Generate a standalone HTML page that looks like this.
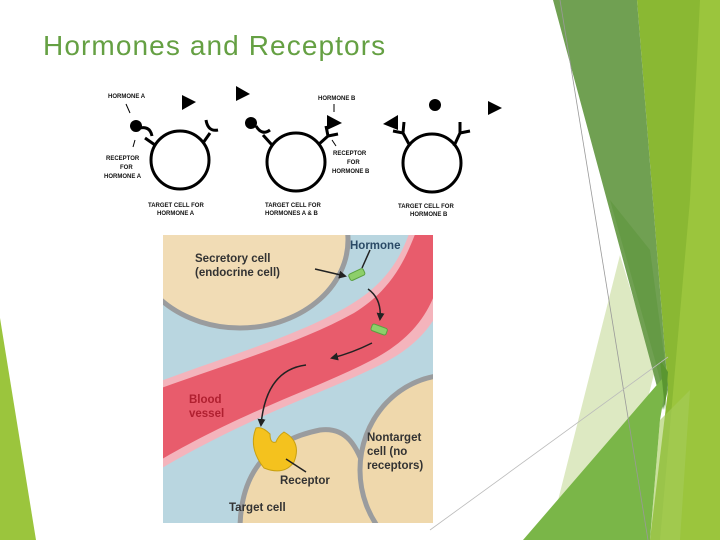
<!DOCTYPE html>
<html><head><meta charset="utf-8"><style>
body{margin:0;width:720px;height:540px;overflow:hidden;background:#fff;font-family:"Liberation Sans",sans-serif;}
svg{position:absolute;left:0;top:0}
.t{font-family:"Liberation Sans",sans-serif;font-weight:bold;fill:#111;font-size:6px}
.b{font-family:"Liberation Sans",sans-serif;font-weight:bold;fill:#333;font-size:11.5px}
</style></head><body>
<svg width="720" height="540" viewBox="0 0 720 540">
<defs>
<marker id="ah" markerWidth="8" markerHeight="8" refX="6" refY="4" orient="auto" markerUnits="userSpaceOnUse"><path d="M0,0 L8,4 L0,8 Z" fill="#222"/></marker>
<clipPath id="c"><rect x="163" y="235" width="270" height="288"/></clipPath>
</defs>
<!-- right decor -->
<polygon points="637,0 720,0 720,540 650,540 668,390" fill="#8ab833"/>
<polygon points="700,0 720,0 720,540 660,540 690,200" fill="#9bc53d"/>
<polygon points="548,540 620,255 655,370 640,430 600,470" fill="#dde9c2"/>
<polygon points="553,0 637,0 668,390 663,410 650,360" fill="#70a052"/>
<polygon points="610,200 655,360 665,400 668,385 650,250" fill="#659a45"/>
<polygon points="523,540 668,372 660,420 650,540" fill="#7ab648"/>
<polygon points="660,360 668,372 665,410" fill="#5a9630"/>
<polygon points="660,420 690,390 680,540 650,540" fill="#a5cc5a" opacity="0.6"/>
<line x1="560" y1="0" x2="648" y2="540" stroke="#999" stroke-width="0.8"/>
<line x1="430" y1="530" x2="668" y2="357" stroke="#bbb" stroke-width="0.8"/>
<!-- left decor -->
<polygon points="0,318 36,540 0,540" fill="#9bc53d"/>
<text x="43" y="55" font-family="Liberation Sans" font-size="28" letter-spacing="1.1" fill="#65a043">Hormones and Receptors</text>

<!-- top diagram -->
<g stroke="#000" stroke-width="3" fill="none">
<circle cx="180" cy="160" r="29"/>
<circle cx="296" cy="162" r="29"/>
<circle cx="432" cy="163" r="29"/>
<line x1="155" y1="145" x2="145" y2="138"/><path d="M140,128 q10,-2 12,8"/>
<line x1="203" y1="143" x2="210" y2="133"/><path d="M206,120 q2,12 12,10"/>
<line x1="272" y1="145" x2="263" y2="135"/><path d="M256,126 q6,10 14,4"/>
<line x1="318" y1="145" x2="328" y2="136"/><line x1="328" y1="136" x2="338" y2="134"/><line x1="328" y1="136" x2="326" y2="126"/>
<line x1="410" y1="146" x2="403" y2="133"/><line x1="403" y1="133" x2="393" y2="131"/><line x1="403" y1="133" x2="404" y2="122"/>
<line x1="454" y1="146" x2="460" y2="133"/><line x1="460" y1="133" x2="470" y2="131"/><line x1="460" y1="133" x2="460" y2="122"/>
</g>
<g fill="#000">
<circle cx="136" cy="126" r="6"/><circle cx="251" cy="123" r="6"/><circle cx="435" cy="105" r="6"/>
<polygon points="182,95 196,102 182,110"/><polygon points="236,86 250,94 236,101"/>
<polygon points="327,115 342,123 327,130"/><polygon points="383,124 398,115 398,130"/>
<polygon points="488,101 502,108 488,115"/>
</g>
<g stroke="#000" stroke-width="1"><line x1="126" y1="104" x2="130" y2="113"/><line x1="135" y1="140" x2="133" y2="147"/><line x1="334" y1="104" x2="334" y2="112"/><line x1="332" y1="140" x2="336" y2="146"/></g>
<text class="t" x="108" y="98">HORMONE A</text>
<text class="t" x="318" y="100">HORMONE B</text>
<text class="t" x="106" y="160">RECEPTOR</text><text class="t" x="120" y="169">FOR</text><text class="t" x="104" y="178">HORMONE A</text>
<text class="t" x="333" y="155">RECEPTOR</text><text class="t" x="347" y="164">FOR</text><text class="t" x="332" y="173">HORMONE B</text>
<text class="t" x="148" y="207">TARGET CELL FOR</text><text class="t" x="157" y="215">HORMONE A</text>
<text class="t" x="265" y="207">TARGET CELL FOR</text><text class="t" x="265" y="215">HORMONES A &amp; B</text>
<text class="t" x="398" y="208">TARGET CELL FOR</text><text class="t" x="410" y="216">HORMONE B</text>

<!-- bottom diagram -->
<g clip-path="url(#c)">
<rect x="163" y="235" width="270" height="288" fill="#b9d6e0"/>
<ellipse cx="240" cy="240" rx="108" ry="88" fill="#f1dcb5" stroke="#9a9c9e" stroke-width="5"/>
<path d="M240,530 C240,470 270,440 320,430 C360,425 360,470 380,500 L400,530 Z" fill="#efd8ac" stroke="#9a9c9e" stroke-width="5"/>
<ellipse cx="450" cy="470" rx="90" ry="95" fill="#efd8ac" stroke="#9a9c9e" stroke-width="5"/>
<path d="M150,385 C230,355 300,335 350,305 C400,275 405,240 415,220 L450,220 L450,280 C440,320 420,345 380,365 C320,395 250,415 150,475 Z" fill="#f4b4bc"/>
<path d="M150,392 C230,363 300,343 354,313 C400,285 410,245 420,222 L440,222 L440,278 C430,315 410,340 372,360 C315,390 250,407 150,466 Z" fill="#e85c6c"/>
</g>
<rect x="349" y="271" width="16" height="7" rx="2" fill="#8dcf6a" stroke="#5aa040" transform="rotate(-25 357 275)"/>
<rect x="371" y="326" width="16" height="7" rx="2" fill="#8dcf6a" stroke="#5aa040" transform="rotate(20 379 330)"/>
<path d="M256,428 q-8,20 8,40 q20,8 30,-6 q8,-20 -10,-30 q-6,4 -8,10 q-6,2 -6,-8 q-8,-8 -14,-6z" fill="#f4c21e" stroke="#c8a010"/>
<g stroke="#222" stroke-width="1.5" fill="none">
<path d="M315,269 L345,276" marker-end="url(#ah)"/><path d="M368,289 q14,10 12,30" marker-end="url(#ah)"/><path d="M372,343 q-20,10 -40,15" marker-end="url(#ah)"/><path d="M306,365 q-40,5 -45,60" marker-end="url(#ah)"/>
<path d="M286,459 L306,472"/><line x1="370" y1="250" x2="362" y2="268"/>
</g>
<text class="b" x="195" y="262">Secretory cell</text><text class="b" x="195" y="276">(endocrine cell)</text>
<text class="b" x="350" y="249" style="fill:#2a4a66">Hormone</text>
<text class="b" x="189" y="403" style="fill:#b02030">Blood</text><text class="b" x="189" y="417" style="fill:#b02030">vessel</text>
<text class="b" x="367" y="441">Nontarget</text><text class="b" x="367" y="455">cell (no</text><text class="b" x="367" y="469">receptors)</text>
<text class="b" x="280" y="484">Receptor</text>
<text class="b" x="229" y="511">Target cell</text>
</svg>
</body></html>
